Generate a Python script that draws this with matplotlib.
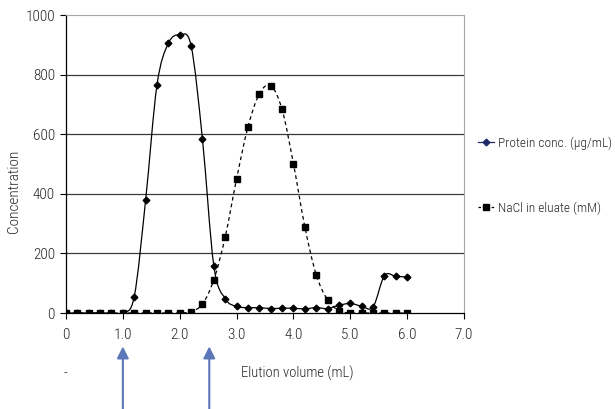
import numpy as np
import matplotlib
matplotlib.use('Agg')
import matplotlib.pyplot as plt
from matplotlib.path import Path
from matplotlib.patches import PathPatch
from matplotlib.lines import Line2D

plt.rcParams['font.family'] = ['Roboto Condensed', 'PT Sans Narrow', 'Archivo Narrow',
                               'Liberation Sans Narrow', 'Liberation Sans', 'DejaVu Sans']
plt.rcParams['font.weight'] = 'light'

# Data
volume = [0.0, 0.2, 0.4, 0.6, 0.8, 1.0, 1.2, 1.4, 1.6, 1.8, 2.0, 2.2, 2.4, 2.6, 2.8, 3.0,
          3.2, 3.4, 3.6, 3.8, 4.0, 4.2, 4.4, 4.6, 4.8, 5.0, 5.2, 5.4, 5.6, 5.8, 6.0]
protein = [0, 0, 0, 0, 0, 0, 55, 378, 765, 905, 933, 897, 583, 158, 48, 22,
           18, 18, 15, 16, 16, 14, 18, 15, 26, 32, 23, 20, 125, 123, 121]
nacl = [0, 0, 0, 0, 0, 0, 0, 0, 0, 0, 0, 5, 30, 112, 255, 450,
        624, 735, 763, 683, 501, 290, 129, 44, 8, 0, 0, 0, 0, 0, 0]
arrow_x = [1.0, 2.52]
x_ticks = [0, 1, 2, 3, 4, 5, 6, 7]
x_tick_labels = ['0', '1.0', '2.0', '3.0', '4.0', '5.0', '6.0', '7.0']
y_ticks = [0, 200, 400, 600, 800, 1000]
text_color = '#262626'


def smooth_path(xs, ys):
    # Catmull-Rom style bezier through the points (like Excel's smoothed line)
    pts = np.column_stack([xs, ys]).astype(float)
    verts = [pts[0]]
    codes = [Path.MOVETO]
    n = len(pts)
    for i in range(n - 1):
        p0 = pts[max(i - 1, 0)]
        p1 = pts[i]
        p2 = pts[i + 1]
        p3 = pts[min(i + 2, n - 1)]
        c1 = p1 + (p2 - p0) / 6.0
        c2 = p2 - (p3 - p1) / 6.0
        verts += [c1, c2, p2]
        codes += [Path.CURVE4] * 3
    return Path(verts, codes)


fig = plt.figure(figsize=(6.15, 4.09), dpi=100)
ax = fig.add_axes([0.1073, 0.2347, 0.6472, 0.7286])

ax.add_patch(PathPatch(smooth_path(volume, protein), fill=False, edgecolor='black',
                       linewidth=0.9, zorder=3))
ax.add_patch(PathPatch(smooth_path(volume, nacl), fill=False, edgecolor='black',
                       linewidth=0.9, linestyle=(0, (3, 2.5)), zorder=3))
ax.plot(volume, protein, linestyle='None', marker='D', markersize=3.4, color='black', zorder=4)
ax.plot(volume, nacl, linestyle='None', marker='s', markersize=4.8, color='black', zorder=4)

ax.set_xlim(0, 7)
ax.set_ylim(0, 1000)
ax.set_xticks(x_ticks)
ax.set_xticklabels(x_tick_labels)
ax.set_yticks(y_ticks)
ax.tick_params(direction='out', length=4, width=0.8, labelsize=11, colors='black',
               labelcolor=text_color, pad=4)
ax.tick_params(axis='x', pad=7)
for y in y_ticks[1:-1]:
    ax.axhline(y, color='#3a3a3a', linewidth=0.9, zorder=1)
ax.spines['top'].set_color('#a6a6a6')
ax.spines['right'].set_color('#a6a6a6')
ax.spines['left'].set_linewidth(0.9)
ax.spines['bottom'].set_linewidth(0.9)

fig.text(0.023, 0.533, 'Concentration', fontsize=11, color=text_color,
         rotation=90, ha='center', va='center')
fig.text(0.483, 0.088, 'Elution volume (mL)', fontsize=10.5, color=text_color,
         ha='center', va='center')
fig.text(0.107, 0.088, '-', fontsize=10, color=text_color, ha='center', va='center')

# Arrows below the x axis
for xa in arrow_x:
    ax.annotate('', xy=(xa, -112), xytext=(xa, -330), xycoords='data', textcoords='data',
                annotation_clip=False,
                arrowprops=dict(arrowstyle='-|>,head_length=0.7,head_width=0.35',
                                color='#5b77b8', linewidth=1.5, shrinkA=0, shrinkB=0))

handles = [Line2D([], [], color='#1f2a6b', marker='D', markersize=3.4, linewidth=0.9),
           Line2D([], [], color='black', marker='s', markersize=4.8, linewidth=0.9,
                  linestyle=(0, (2, 1.5)))]
labels = ['Protein conc. (\u00b5g/mL)', 'NaCl in eluate (mM)']
fig.legend(handles, labels, loc='upper left', bbox_to_anchor=(0.768, 0.68),
           frameon=False, fontsize=9.6, labelspacing=3.9, handlelength=1.2,
           handletextpad=0.3, labelcolor=text_color, borderaxespad=0)

fig.savefig('out.png', dpi=100)
